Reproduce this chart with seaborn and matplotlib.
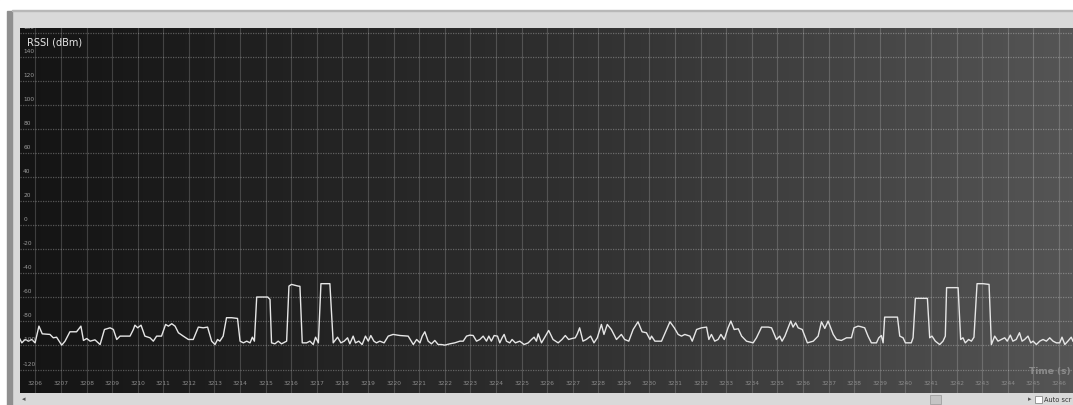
import numpy as np
import pandas as pd
import seaborn as sns
import matplotlib.pyplot as plt
from matplotlib.patches import Rectangle
import matplotlib.transforms as mtransforms

# --- data ---
time_s = [
    3205.34, 3205.47, 3205.60, 3205.73, 3205.86, 3205.99, 3206.14, 3206.27, 3206.57, 3206.70,
    3206.83, 3207.03, 3207.16, 3207.35, 3207.61, 3207.78, 3207.88, 3208.01, 3208.14, 3208.33,
    3208.53, 3208.70, 3208.92, 3209.05, 3209.18, 3209.31, 3209.70, 3209.83, 3209.89, 3210.00,
    3210.13, 3210.28, 3210.48, 3210.61, 3210.74, 3210.93, 3211.09, 3211.20, 3211.33, 3211.46,
    3211.59, 3211.78, 3211.98, 3212.17, 3212.37, 3212.56, 3212.73, 3212.89, 3213.02, 3213.12,
    3213.21, 3213.34, 3213.47, 3213.67,
    3213.90, 3214.00, 3214.13, 3214.26, 3214.39, 3214.48, 3214.56, 3214.65, 3214.84, 3215.08,
    3215.17, 3215.23, 3215.36, 3215.49, 3215.62, 3215.82, 3215.91, 3216.01, 3216.27, 3216.34,
    3216.43, 3216.60, 3216.73, 3216.86, 3216.95, 3217.06, 3217.16, 3217.38, 3217.51, 3217.64,
    3217.81, 3217.94, 3218.07, 3218.20, 3218.29, 3218.42, 3218.51, 3218.64, 3218.77, 3218.90,
    3219.01, 3219.11, 3219.23, 3219.33, 3219.46, 3219.63, 3219.79, 3219.98, 3220.25, 3220.57,
    3220.77, 3220.90, 3221.03, 3221.12, 3221.22, 3221.35, 3221.48, 3221.61, 3221.74,
    3221.87, 3222.00, 3222.20, 3222.39, 3222.59, 3222.72, 3222.85, 3222.98, 3223.11, 3223.24,
    3223.37, 3223.50, 3223.63, 3223.72, 3223.82, 3223.93, 3224.06, 3224.15, 3224.24, 3224.32,
    3224.41, 3224.54, 3224.63, 3224.76, 3224.93, 3225.10, 3225.26, 3225.39, 3225.49, 3225.58,
    3225.65, 3225.78, 3225.91, 3226.06, 3226.23, 3226.43, 3226.58, 3226.71, 3226.84, 3226.97,
    3227.10, 3227.18, 3227.27, 3227.40, 3227.53, 3227.70, 3227.83, 3227.96, 3228.12, 3228.22,
    3228.35, 3228.51, 3228.71, 3228.90, 3229.03, 3229.19, 3229.36, 3229.55, 3229.71, 3229.88,
    3230.02,
    3230.08, 3230.21, 3230.47, 3230.80, 3230.97, 3231.12, 3231.25, 3231.38, 3231.58, 3231.67,
    3231.84, 3232.03, 3232.23, 3232.32, 3232.42, 3232.55, 3232.68, 3232.79, 3232.92, 3233.07,
    3233.18, 3233.31, 3233.47, 3233.60, 3233.79, 3234.05, 3234.18, 3234.38, 3234.64, 3234.77,
    3234.96, 3235.09, 3235.18, 3235.29, 3235.39, 3235.52, 3235.61, 3235.71, 3235.81, 3235.97,
    3236.17, 3236.40, 3236.59, 3236.72, 3236.85, 3236.98, 3237.18, 3237.31, 3237.50, 3237.70,
    3237.89, 3237.99, 3238.15, 3238.23,
    3238.41, 3238.54, 3238.67, 3238.87, 3238.96, 3239.06, 3239.13, 3239.19, 3239.45, 3239.69,
    3239.78, 3239.91, 3240.00, 3240.23, 3240.30, 3240.39, 3240.62, 3240.86, 3240.95, 3241.04,
    3241.17, 3241.34, 3241.47, 3241.56, 3241.61, 3241.86, 3242.06, 3242.16, 3242.25, 3242.34,
    3242.47, 3242.58, 3242.68, 3242.80, 3243.03, 3243.27, 3243.36, 3243.49, 3243.62, 3243.75,
    3243.88, 3243.98, 3244.10, 3244.20, 3244.33, 3244.46, 3244.56, 3244.66, 3244.79, 3244.90,
    3244.99, 3245.12, 3245.25, 3245.38, 3245.51, 3245.64, 3245.77, 3245.90, 3246.03, 3246.12,
    3246.23, 3246.35, 3246.48, 3246.55,
]

rssi_dbm = [
    -92.2, -97.8, -95.0, -96.4, -95.0, -97.8, -83.9, -90.3, -90.8, -93.6,
    -93.1, -99.7, -96.4, -88.6, -88.6, -83.9, -95.8, -94.2, -96.4, -95.3,
    -99.2, -86.7, -85.3, -86.7, -95.0, -92.2, -92.2, -86.7, -83.1, -85.3,
    -83.1, -92.2, -93.6, -96.4, -92.2, -92.2, -82.5, -83.9, -81.9, -83.9,
    -89.4, -92.2, -95.0, -95.0, -84.7, -85.3, -84.7, -96.4, -99.2, -95.0,
    -96.4, -92.2, -76.9, -76.9,
    -77.5, -96.4, -97.8, -96.4, -97.8, -93.1, -96.4, -59.7, -59.7, -59.7,
    -61.7, -97.8, -98.6, -96.4, -98.6, -96.4, -50.6, -49.2, -50.6, -50.8,
    -97.8, -97.8, -96.4, -99.2, -93.1, -97.8, -48.6, -48.6, -48.6, -97.8,
    -93.1, -97.8, -96.4, -93.6, -98.6, -92.2, -97.8, -96.4, -99.2, -92.2,
    -96.4, -91.7, -96.4, -97.8, -96.4, -97.8, -92.2, -90.8, -91.7, -92.2,
    -99.2, -95.0, -97.8, -92.2, -88.6, -96.4, -98.6, -95.8, -99.2,
    -99.2, -99.7, -98.6, -97.8, -96.4, -96.4, -92.2, -91.4, -91.7, -96.4,
    -95.0, -92.2, -96.4, -92.2, -96.4, -91.7, -92.2, -97.8, -93.6, -90.8,
    -96.4, -97.8, -95.0, -97.8, -96.4, -99.2, -97.8, -95.0, -93.1, -96.4,
    -90.3, -97.8, -93.1, -87.5, -95.0, -97.8, -95.0, -91.7, -95.0, -94.2,
    -93.6, -90.3, -85.3, -96.4, -95.0, -92.2, -97.8, -93.6, -82.5, -90.8,
    -82.5, -86.7, -95.0, -90.8, -95.0, -96.4, -86.7, -80.3, -88.6, -89.4,
    -95.0,
    -92.2, -96.4, -96.4, -80.3, -85.3, -90.8, -92.2, -90.8, -92.2, -96.4,
    -86.7, -85.3, -84.7, -95.0, -90.8, -96.4, -95.0, -90.8, -95.0, -85.3,
    -79.7, -86.7, -86.1, -92.2, -96.4, -97.8, -93.6, -84.7, -84.7, -85.3,
    -95.0, -92.2, -96.4, -92.2, -86.7, -79.7, -84.7, -81.1, -85.3, -86.7,
    -97.8, -96.4, -92.2, -80.3, -85.8, -79.7, -90.8, -95.0, -95.8, -93.6,
    -93.6, -85.3, -83.9, -84.2,
    -85.3, -92.2, -97.8, -97.8, -93.6, -91.7, -97.8, -76.4, -76.4, -76.4,
    -92.2, -93.6, -97.8, -97.8, -93.6, -60.8, -60.8, -60.8, -93.6, -92.2,
    -96.4, -99.2, -96.4, -92.2, -51.9, -51.9, -51.9, -95.0, -93.6, -97.8,
    -95.0, -96.4, -93.1, -48.6, -48.6, -49.2, -99.2, -92.2, -96.4, -95.0,
    -93.6, -96.4, -91.4, -96.4, -95.0, -89.4, -96.4, -95.0, -92.2, -97.8,
    -96.4, -99.2, -96.4, -95.0, -96.4, -93.6, -96.4, -97.8, -97.8, -93.1,
    -99.2, -96.4, -93.1, -96.4,
]

y_ticks = [-120, -100, -80, -60, -40, -20, 0, 20, 40, 60, 80, 100, 120, 140, 160]
x_ticks = list(range(3206, 3247))

df = pd.DataFrame({"Time (s)": time_s, "RSSI (dBm)": rssi_dbm})

# --- figure / window chrome ---
W, H = 1073, 405
fig = plt.figure(figsize=(W / 100, H / 100), dpi=100)
fig.patch.set_facecolor("#d9d9d9")
fig.add_artist(Rectangle((0, 1 - 10 / H), 1, 10 / H, transform=fig.transFigure,
                         color="white", zorder=0))
fig.add_artist(Rectangle((0, 0), 7 / W, 1, transform=fig.transFigure,
                         color="white", zorder=0))
fig.add_artist(Rectangle((7 / W, 0), 5 / W, 1 - 11 / H, transform=fig.transFigure,
                         color="#8f8f8f", zorder=0))
fig.add_artist(Rectangle((12 / W, 1 - 11 / H), 1, 1 / H, transform=fig.transFigure,
                         color="#b8b8b8", zorder=0))
# bottom scroll bar bits
fig.text(24 / W, 6 / H, "◂", fontsize=5, color="#555555", ha="center", va="center")
fig.add_artist(Rectangle((930 / W, 1 / H), 11 / W, 9 / H, transform=fig.transFigure,
                         facecolor="#c4c4c4", edgecolor="#a0a0a0", lw=0.6))
fig.text(1030 / W, 6 / H, "▸", fontsize=5, color="#555555", ha="center", va="center")
fig.add_artist(Rectangle((1035 / W, 2 / H), 7 / W, 7 / H, transform=fig.transFigure,
                         facecolor="white", edgecolor="#8a8a8a", lw=0.6))
fig.text(1044 / W, 5.5 / H, "Auto scr", fontsize=4.8, color="#333333", ha="left", va="center")

ax = fig.add_axes([20 / W, 12 / H, (W - 20) / W, 365 / H])
xmin, xmax = 3205.4, 3246.55
ymin, ymax = -139.5, 164.0

# horizontal dark gradient background
grad = np.linspace(0, 1, 256).reshape(1, -1)
ax.imshow(grad, extent=[xmin, xmax, ymin, ymax], aspect="auto", zorder=0,
          cmap=plt.matplotlib.colors.LinearSegmentedColormap.from_list(
              "bg", ["#141414", "#2e2e2e", "#555555"]))

sns.lineplot(data=df, x="Time (s)", y="RSSI (dBm)", ax=ax, color="#e6e6e6",
             linewidth=1.0, sort=False, estimator=None, zorder=3)

ax.set_xlim(xmin, xmax)
ax.set_ylim(ymin, ymax)
ax.set_xticks(x_ticks)
ax.set_yticks(y_ticks)
ax.grid(axis="x", color="#ffffff", alpha=0.18, linewidth=0.8, linestyle="-")
ax.grid(axis="y", color="#ffffff", alpha=0.28, linewidth=0.9, linestyle=(0, (1, 1)))
ax.set_axisbelow(True)
ax.tick_params(left=False, bottom=False, labelleft=False, labelbottom=False)
ax.set_xlabel("")
ax.set_ylabel("")
for s in ax.spines.values():
    s.set_visible(False)

# tick labels drawn inside the plot like the logger window
ytr = mtransforms.blended_transform_factory(ax.transAxes, ax.transData)
for v in y_ticks:
    ax.text(0.003, v + 2.5, str(v), transform=ytr, fontsize=4.2, color="#9a9a9a",
            ha="left", va="bottom", clip_on=True)
xtr = mtransforms.blended_transform_factory(ax.transData, ax.transAxes)
for t in x_ticks:
    ax.text(t, 0.027, str(t), transform=xtr, fontsize=4.2, color="#8c8c8c",
            ha="center", va="center", clip_on=True)

ax.text(0.0065, 0.975, "RSSI (dBm)", transform=ax.transAxes, fontsize=7,
        color="#e6e6e6", ha="left", va="top")
ax.text(1.0 - 2 / (W - 20), 0.058, "Time (s)", transform=ax.transAxes, fontsize=6.5,
        color="#8a8a8a", ha="right", va="center", fontweight="bold")

fig.savefig("out.png", dpi=100, facecolor=fig.get_facecolor())
